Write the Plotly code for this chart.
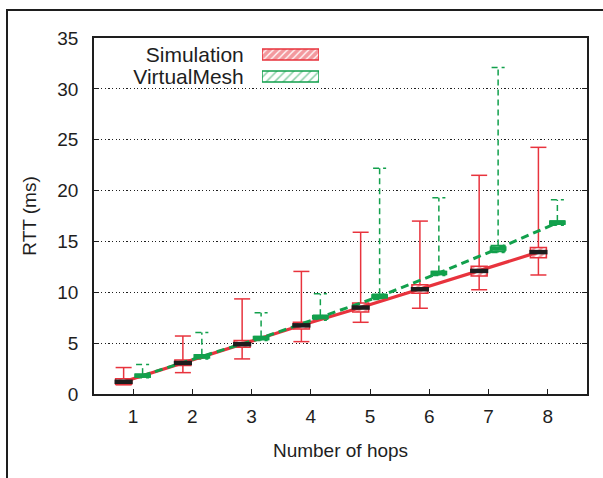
import plotly.graph_objects as go

hops = [1, 2, 3, 4, 5, 6, 7, 8]

sim_low  = [0.9, 2.1, 3.45, 5.15, 7.05, 8.43, 10.25, 11.7]
sim_q1   = [0.95, 2.8, 4.6, 6.4, 8.05, 9.9, 11.6, 13.4]
sim_med  = [1.2, 3.05, 4.9, 6.75, 8.5, 10.3, 12.1, 13.95]
sim_q3   = [1.5, 3.35, 5.25, 7.05, 8.95, 10.75, 12.55, 14.4]
sim_high = [2.6, 5.7, 9.35, 12.05, 15.9, 17.0, 21.5, 24.25]

vm_low  = [1.6, 3.45, 5.25, 7.25, 9.3, 11.65, 13.9, 16.6]
vm_q1   = [1.7, 3.55, 5.35, 7.35, 9.4, 11.75, 14.0, 16.7]
vm_med  = [1.8, 3.7, 5.5, 7.55, 9.6, 11.9, 14.3, 16.85]
vm_q3   = [1.95, 3.85, 5.65, 7.75, 9.8, 12.05, 14.6, 17.0]
vm_high = [2.9, 6.05, 8.0, 9.85, 22.2, 19.3, 32.1, 19.1]

series_names = ["Simulation", "VirtualMesh"]
x_ticks = [1, 2, 3, 4, 5, 6, 7, 8]
y_ticks = [0, 5, 10, 15, 20, 25, 30, 35]

RED = "#e8333d"
GREEN = "#12a04c"
INK = "#1e1e1e"
FONT = "Liberation Sans"

OFF = 0.16
BOXW = 0.27
CAP_S = 0.135
CAP_V = 0.11

xS = [h - OFF for h in hops]
xV = [h + OFF for h in hops]


def whisker_path(xs, lo, q1, q3, hi, cap):
    px, py = [], []
    for x, a, b, c, d in zip(xs, lo, q1, q3, hi):
        px += [x, x, None, x - cap, x + cap, None, x, x, None, x - cap, x + cap, None]
        py += [c, d, None, d, d, None, b, a, None, a, a, None]
    return px, py


fig = go.Figure()

# boxes
fig.add_trace(go.Bar(
    x=xS, y=[b - a for a, b in zip(sim_q1, sim_q3)], base=sim_q1, width=BOXW,
    marker=dict(color="white", line=dict(color=RED, width=1.5),
                pattern=dict(shape="/", fgcolor=RED, bgcolor="white", size=5, solidity=0.5)),
    showlegend=False, hoverinfo="skip"))
fig.add_trace(go.Bar(
    x=xV, y=[b - a for a, b in zip(vm_q1, vm_q3)], base=vm_q1, width=BOXW * 0.85,
    marker=dict(color="white", line=dict(color=GREEN, width=1.5),
                pattern=dict(shape="/", fgcolor=GREEN, bgcolor="white", size=5, solidity=0.5)),
    showlegend=False, hoverinfo="skip"))

# whiskers
wx, wy = whisker_path(xS, sim_low, sim_q1, sim_q3, sim_high, CAP_S)
fig.add_trace(go.Scatter(x=wx, y=wy, mode="lines", line=dict(color=RED, width=1.5),
                         showlegend=False, hoverinfo="skip"))
wx, wy = whisker_path(xV, vm_low, vm_q1, vm_q3, vm_high, CAP_V)
fig.add_trace(go.Scatter(x=wx, y=wy, mode="lines", line=dict(color=GREEN, width=1.5, dash="6px,4px"),
                         showlegend=False, hoverinfo="skip"))

# median connecting lines
fig.add_trace(go.Scatter(x=xS, y=sim_med, mode="lines", line=dict(color=RED, width=3.2),
                         showlegend=False, hoverinfo="skip"))
fig.add_trace(go.Scatter(x=xV, y=vm_med, mode="lines", line=dict(color=GREEN, width=3, dash="8px,5px"),
                         showlegend=False, hoverinfo="skip"))

# median bars
fig.add_trace(go.Scatter(x=xS, y=sim_med, mode="markers",
                         marker=dict(symbol="line-ew", size=13, line=dict(color=INK, width=4.5)),
                         showlegend=False, hoverinfo="skip"))
fig.add_trace(go.Scatter(x=xV, y=vm_med, mode="markers",
                         marker=dict(symbol="line-ew", size=12, line=dict(color=GREEN, width=4.5)),
                         showlegend=False, hoverinfo="skip"))

# legend as a small overlaid subplot
fig.add_trace(go.Bar(
    x=[1], y=[1], base=[0], width=0.5, orientation="h", xaxis="x2", yaxis="y2",
    marker=dict(color="white", line=dict(color=RED, width=1.5),
                pattern=dict(shape="/", fgcolor=RED, bgcolor="white", size=5, solidity=0.75)),
    showlegend=False, hoverinfo="skip"))
fig.add_trace(go.Bar(
    x=[1], y=[0], base=[0], width=0.5, orientation="h", xaxis="x2", yaxis="y2",
    marker=dict(color="white", line=dict(color=GREEN, width=1.5),
                pattern=dict(shape="/", fgcolor=GREEN, bgcolor="white", size=6, solidity=0.25)),
    showlegend=False, hoverinfo="skip"))

W, H = 603, 478
L, R, T, B = 94, 16, 38, 84
pw, ph = W - L - R, H - T - B


def px_to_paper_x(px):
    return (px - L) / pw


def px_to_paper_y(py):
    return (H - B - py) / ph


fig.update_layout(
    width=W, height=H,
    margin=dict(l=L, r=R, t=T, b=B, pad=0),
    paper_bgcolor="white", plot_bgcolor="white",
    barmode="overlay",
    font=dict(family=FONT, size=19, color=INK),
    xaxis=dict(range=[0.34, 8.66], tickvals=x_ticks, ticks="inside", ticklen=5,
               tickcolor=INK, tickwidth=1.2, ticklabelstandoff=4,
               showline=True, linecolor=INK, linewidth=1.8, mirror=True,
               showgrid=False, zeroline=False,
               title=dict(text="Number of hops", standoff=18, font=dict(size=19))),
    yaxis=dict(range=[0, 35], tickvals=y_ticks, ticks="inside", ticklen=5,
               tickcolor=INK, tickwidth=1.2, ticklabelstandoff=10,
               showline=True, linecolor=INK, linewidth=1.8, mirror="ticks",
               showgrid=True, gridcolor=INK, griddash="1.2px,2.4px", gridwidth=1.2,
               zeroline=False,
               title=dict(text="RTT (ms)", standoff=16, font=dict(size=19))),
    xaxis2=dict(domain=[px_to_paper_x(262), px_to_paper_x(319)], range=[0, 1],
                anchor="y2", showgrid=False, zeroline=False, showticklabels=False,
                showline=False, fixedrange=True),
    yaxis2=dict(domain=[px_to_paper_y(87.5), px_to_paper_y(43.5)], range=[-0.5, 1.5],
                anchor="x2", tickvals=[1, 0], ticktext=series_names,
                ticks="outside", ticklen=13, tickcolor="rgba(0,0,0,0)",
                showgrid=False, zeroline=False, showline=False, fixedrange=True,
                tickfont=dict(size=21, color=INK)),
    shapes=[dict(type="rect", xref="paper", yref="paper",
                 x0=px_to_paper_x(7), x1=px_to_paper_x(700),
                 y0=px_to_paper_y(10), y1=px_to_paper_y(600),
                 line=dict(color=INK, width=2), fillcolor="rgba(0,0,0,0)",
                 layer="above")],
)

fig.write_html("out.html")
